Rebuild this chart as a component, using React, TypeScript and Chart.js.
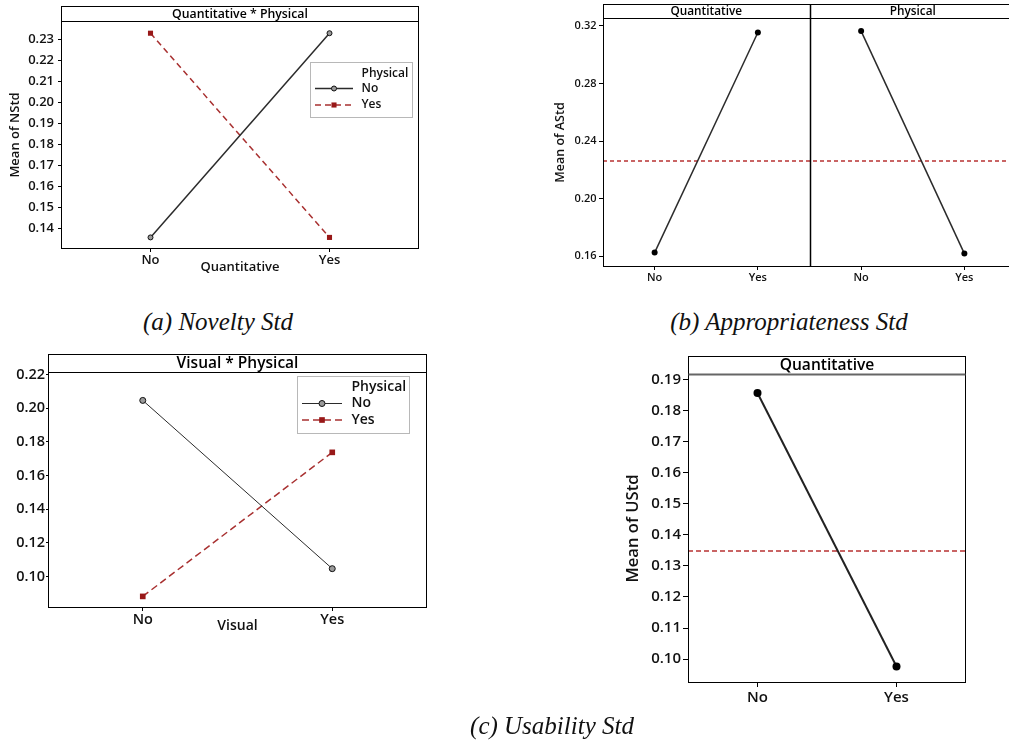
import React, { useEffect, useRef } from "react";
import { Chart, registerables } from "chart.js";

Chart.register(...registerables);

const FONT = "'Open Sans', 'Noto Sans', sans-serif";

// ---------- data ----------
const levels = ["No", "Yes"];
const facetLevels = ["No", "Yes", "No", "Yes"];
const legendTitle = "Physical";
const seriesNames = ["No", "Yes"];

// (a) Novelty Std : Quantitative * Physical
const noveltyPhysNo = [0.1359, 0.2329];
const noveltyPhysYes = [0.2329, 0.1359];
const noveltyRange = [0.1304, 0.2387];
const noveltyStep = 0.01;

// (b) Appropriateness Std : main effects
const apprQuantitative = [0.1626, 0.3153, null, null];
const apprPhysical = [null, null, 0.3163, 0.1619];
const apprGrandMean = 0.2259;
const apprRange = [0.1526, 0.3254];
const apprStep = 0.04;

// (c) Usability Std : Visual * Physical
const usabVisPhysNo = [0.2047, 0.1046];
const usabVisPhysYes = [0.0881, 0.1738];
const usabVisRange = [0.0812, 0.2216];
const usabVisStep = 0.02;

// (c) Usability Std : Quantitative main effect
const usabQuantitative = [0.1857, 0.0976];
const usabGrandMean = 0.1347;
const usabQuantRange = [0.0923, 0.1918];
const usabQuantStep = 0.01;

// ---------- plugin: frame, facet strips, mean line, legend ----------
function makeDecoPlugin(o: any) {
  return {
    id: "panelDeco",
    beforeDatasetsDraw(chart: any) {
      if (o.mean == null) return;
      const { ctx, chartArea: ca } = chart;
      const y = Math.round(chart.scales.y.getPixelForValue(o.mean));
      ctx.save();
      ctx.strokeStyle = o.meanColor;
      ctx.lineWidth = 1.4;
      ctx.setLineDash(o.meanDash);
      ctx.beginPath();
      ctx.moveTo(ca.left, y);
      ctx.lineTo(ca.right, y);
      ctx.stroke();
      ctx.restore();
    },
    afterDraw(chart: any) {
      const { ctx, chartArea: ca } = chart;
      const L = Math.round(ca.left) + 0.5;
      const R = Math.round(ca.right) - 0.5;
      const T = Math.round(ca.top) + 0.5;
      const B = Math.round(ca.bottom) - 0.5;
      const ST = T - o.stripHeight;
      ctx.save();
      ctx.setLineDash([]);
      ctx.strokeStyle = "#000";
      ctx.lineWidth = 1;
      ctx.strokeRect(L, ST, R - L, B - ST);
      ctx.strokeStyle = o.stripLineColor;
      ctx.lineWidth = o.stripLineWidth;
      ctx.beginPath();
      ctx.moveTo(L, T);
      ctx.lineTo(R, T);
      ctx.stroke();
      const xs = chart.scales.x;
      const last = xs.ticks.length - 1;
      ctx.fillStyle = "#000";
      ctx.textAlign = "center";
      ctx.textBaseline = "middle";
      ctx.font = `${o.stripWeight} ${o.stripFont}px ${FONT}`;
      o.facets.forEach((f: any) => {
        const x0 = f.start === 0 ? ca.left : (xs.getPixelForValue(f.start - 1) + xs.getPixelForValue(f.start)) / 2;
        const x1 = f.end >= last ? ca.right : (xs.getPixelForValue(f.end) + xs.getPixelForValue(f.end + 1)) / 2;
        if (f.start > 0) {
          const xd = Math.round(x0) + 0.5;
          ctx.strokeStyle = "#000";
          ctx.lineWidth = 1.5;
          ctx.beginPath();
          ctx.moveTo(xd, ST);
          ctx.lineTo(xd, B);
          ctx.stroke();
        }
        ctx.fillText(f.label, (x0 + x1) / 2, ST + o.stripHeight / 2 + 0.5);
      });
      const lg = o.legend;
      if (lg) {
        ctx.strokeStyle = "#b8b8b8";
        ctx.lineWidth = 1;
        ctx.strokeRect(Math.round(lg.x) + 0.5, Math.round(lg.y) + 0.5, lg.w, lg.h);
        ctx.font = `600 ${lg.font}px ${FONT}`;
        ctx.textAlign = "left";
        ctx.fillStyle = "#111";
        ctx.fillText(lg.title, lg.textX, lg.rows[0]);
        chart.data.datasets.forEach((ds: any, i: number) => {
          const yy = lg.rows[i + 1];
          ctx.save();
          ctx.strokeStyle = ds.borderColor;
          ctx.lineWidth = ds.borderWidth;
          ctx.setLineDash(ds.borderDash || []);
          ctx.beginPath();
          ctx.moveTo(lg.lineX0, yy);
          ctx.lineTo(lg.lineX1, yy);
          ctx.stroke();
          ctx.setLineDash([]);
          const mx = (lg.lineX0 + lg.lineX1) / 2;
          ctx.fillStyle = ds.pointBackgroundColor;
          ctx.strokeStyle = ds.pointBorderColor;
          ctx.lineWidth = 1;
          if (ds.pointStyle === "rect") {
            const s = ds.pointRadius * Math.SQRT1_2;
            ctx.fillRect(mx - s, yy - s, 2 * s, 2 * s);
          } else {
            ctx.beginPath();
            ctx.arc(mx, yy, ds.pointRadius, 0, Math.PI * 2);
            ctx.fill();
            ctx.stroke();
          }
          ctx.restore();
          ctx.fillStyle = "#111";
          ctx.fillText(ds.label, lg.textX, yy);
        });
      }
      ctx.restore();
    },
  };
}

function buildConfig(p: any) {
  const tickFont = { family: FONT, size: p.tickFont, weight: "600" as any };
  const titleFont = { family: FONT, size: p.titleFont, weight: "600" as any };
  return {
    type: "line",
    data: { labels: p.labels, datasets: p.datasets },
    plugins: [makeDecoPlugin(p.deco)],
    options: {
      animation: false,
      responsive: false,
      events: [],
      layout: { padding: p.padding },
      plugins: {
        legend: { display: false },
        tooltip: { enabled: false },
      },
      scales: {
        x: {
          type: "category",
          offset: true,
          border: { display: false },
          grid: { display: true, drawOnChartArea: false, drawTicks: true, tickLength: p.xTickLen, color: "#000", lineWidth: 1 },
          ticks: { padding: p.xPad, color: "#111", font: tickFont, maxRotation: 0, autoSkip: false },
          title: p.xTitle
            ? { display: true, text: p.xTitle, color: "#111", font: titleFont, padding: { top: 0, bottom: p.xTitlePad } }
            : { display: false },
          afterFit: (s: any) => { s.height = p.xHeight; },
        },
        y: {
          type: "linear",
          min: p.range[0],
          max: p.range[1],
          border: { display: false },
          grid: { display: true, drawOnChartArea: false, drawTicks: true, tickLength: p.yTickLen, color: "#000", lineWidth: 1 },
          ticks: {
            stepSize: p.step,
            includeBounds: false,
            padding: p.yPad,
            color: "#111",
            font: tickFont,
            callback: (v: any) => Number(v).toFixed(2),
          },
          title: p.yTitle
            ? { display: true, text: p.yTitle, color: "#111", font: titleFont, padding: { top: p.yTitlePad, bottom: 0 } }
            : { display: false },
          afterFit: (s: any) => { s.width = p.yWidth; },
        },
      },
    },
  };
}

function Panel({ left, top, width, height, make }: any) {
  const ref = useRef<HTMLCanvasElement>(null);
  useEffect(() => {
    const chart = new Chart(ref.current as any, make() as any);
    return () => chart.destroy();
  }, []);
  return <canvas ref={ref} width={width} height={height} style={{ position: "absolute", left, top, width, height }} />;
}

const darkLine = "#2b2b2b";
const redLine = "#a83030";
const redMark = "#981818";
const meanRed = "#b83232";

const makeA = () =>
  buildConfig({
    labels: levels,
    datasets: [
      { label: seriesNames[0], data: noveltyPhysNo, borderColor: darkLine, borderWidth: 1.5, pointStyle: "circle", pointRadius: 2.5, pointBackgroundColor: "#9a9a9a", pointBorderColor: "#111", pointBorderWidth: 1 },
      { label: seriesNames[1], data: noveltyPhysYes, borderColor: redLine, borderWidth: 1.5, borderDash: [6, 4], pointStyle: "rect", pointRadius: 3.6, pointBackgroundColor: redMark, pointBorderColor: redMark, pointBorderWidth: 0 },
    ],
    padding: { left: 0, top: 21, right: 11, bottom: 0 },
    range: noveltyRange, step: noveltyStep,
    tickFont: 13, titleFont: 13,
    yWidth: 61, yTickLen: 3, yPad: 4, yTitle: "Mean of NStd", yTitlePad: 7.5,
    xHeight: 31, xTickLen: 3, xPad: 0.5, xTitle: "Quantitative", xTitlePad: 5,
    deco: {
      stripHeight: 15, stripFont: 12.3, stripWeight: "600", stripLineColor: "#000", stripLineWidth: 1,
      facets: [{ label: "Quantitative * Physical", start: 0, end: 1 }],
      legend: { x: 310, y: 62, w: 102, h: 55, font: 12, title: legendTitle, textX: 361.5, rows: [73.5, 88.5, 105], lineX0: 315, lineX1: 353 },
    },
  });

const makeB = () =>
  buildConfig({
    labels: facetLevels,
    datasets: [
      { label: "Quantitative", data: apprQuantitative, borderColor: darkLine, borderWidth: 1.5, pointStyle: "circle", pointRadius: 3, pointBackgroundColor: "#000", pointBorderColor: "#000", pointBorderWidth: 0, spanGaps: false },
      { label: "Physical", data: apprPhysical, borderColor: darkLine, borderWidth: 1.5, pointStyle: "circle", pointRadius: 3, pointBackgroundColor: "#000", pointBorderColor: "#000", pointBorderWidth: 0, spanGaps: false },
    ],
    padding: { left: 0, top: 18, right: 2, bottom: 0 },
    range: apprRange, step: apprStep,
    tickFont: 11, titleFont: 12.5,
    yWidth: 63, yTickLen: 4, yPad: 2.5, yTitle: "Mean of AStd", yTitlePad: 12.5,
    xHeight: 23, xTickLen: 3, xPad: 1, xTitle: null,
    deco: {
      stripHeight: 14, stripFont: 11.8, stripWeight: "600", stripLineColor: "#000", stripLineWidth: 1,
      facets: [
        { label: "Quantitative", start: 0, end: 1 },
        { label: "Physical", start: 2, end: 3 },
      ],
      mean: apprGrandMean, meanColor: meanRed, meanDash: [4, 3],
    },
  });

const makeC = () =>
  buildConfig({
    labels: levels,
    datasets: [
      { label: seriesNames[0], data: usabVisPhysNo, borderColor: darkLine, borderWidth: 1, pointStyle: "circle", pointRadius: 3, pointBackgroundColor: "#9a9a9a", pointBorderColor: "#111", pointBorderWidth: 1 },
      { label: seriesNames[1], data: usabVisPhysYes, borderColor: redLine, borderWidth: 1.5, borderDash: [7, 4], pointStyle: "rect", pointRadius: 4, pointBackgroundColor: redMark, pointBorderColor: redMark, pointBorderWidth: 0 },
    ],
    padding: { left: 0, top: 32, right: 13, bottom: 0 },
    range: usabVisRange, step: usabVisStep,
    tickFont: 14.5, titleFont: 14,
    yWidth: 48, yTickLen: 2, yPad: 1, yTitle: null,
    xHeight: 32, xTickLen: 3, xPad: 0.5, xTitle: "Visual", xTitlePad: 5.5,
    deco: {
      stripHeight: 18, stripFont: 15.5, stripWeight: "600", stripLineColor: "#000", stripLineWidth: 1,
      facets: [{ label: "Visual * Physical", start: 0, end: 1 }],
      legend: { x: 297, y: 36, w: 112, h: 57, font: 14, title: legendTitle, textX: 351.5, rows: [47.5, 63.5, 80], lineX0: 302, lineX1: 342 },
    },
  });

const makeD = () =>
  buildConfig({
    labels: levels,
    datasets: [
      { label: "Quantitative", data: usabQuantitative, borderColor: "#222", borderWidth: 2, pointStyle: "circle", pointRadius: 4, pointBackgroundColor: "#000", pointBorderColor: "#000", pointBorderWidth: 0 },
    ],
    padding: { left: 0, top: 34, right: 34, bottom: 0 },
    range: usabQuantRange, step: usabQuantStep,
    tickFont: 15, titleFont: 16.6,
    yWidth: 88, yTickLen: 5, yPad: 2, yTitle: "Mean of UStd", yTitlePad: 23,
    xHeight: 37, xTickLen: 4, xPad: 1.5, xTitle: null,
    deco: {
      stripHeight: 18, stripFont: 15.6, stripWeight: "600", stripLineColor: "#666", stripLineWidth: 2,
      facets: [{ label: "Quantitative", start: 0, end: 1 }],
      mean: usabGrandMean, meanColor: meanRed, meanDash: [5, 3],
    },
  });

const captionStyle: React.CSSProperties = {
  position: "absolute",
  textAlign: "center",
  fontFamily: "'Liberation Serif', 'Times New Roman', serif",
  fontStyle: "italic",
  fontSize: 25,
  lineHeight: "28px",
  color: "#111",
  whiteSpace: "nowrap",
};

export default function App() {
  return (
    <div style={{ position: "absolute", left: 0, top: 0, width: 1009, height: 744, overflow: "hidden", background: "#fff" }}>
      <Panel left={0} top={0} width={430} height={280} make={makeA} />
      <Panel left={540} top={0} width={480} height={290} make={makeB} />
      <Panel left={0} top={340} width={440} height={300} make={makeC} />
      <Panel left={600} top={340} width={400} height={380} make={makeD} />
      <div style={{ ...captionStyle, left: 68, top: 308, width: 300 }}>(a) Novelty Std</div>
      <div style={{ ...captionStyle, left: 639, top: 308, width: 300 }}>(b) Appropriateness Std</div>
      <div style={{ ...captionStyle, left: 402, top: 712, width: 300 }}>(c) Usability Std</div>
    </div>
  );
}
